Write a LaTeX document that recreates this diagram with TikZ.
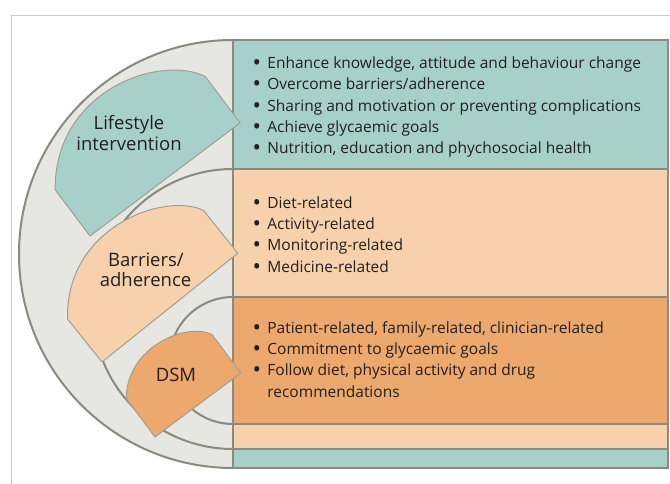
\documentclass[tikz,border=0pt]{standalone}
\usepackage{fontspec}
\setmainfont{Open Sans}
\definecolor{bggray}{HTML}{E6E6E2}
\definecolor{linegray}{HTML}{8A8A80}
\definecolor{framegray}{HTML}{C8C8C0}
\definecolor{shapeline}{HTML}{A0A090}
\definecolor{tealc}{HTML}{A8D0CB}
\definecolor{peachc}{HTML}{F7D0AC}
\definecolor{orangec}{HTML}{EDA96D}
\definecolor{textc}{HTML}{231F20}
\tikzset{
  boxline/.style={draw=linegray, line width=2pt},
  labelfont/.style={font=\fontsize{18.5}{21}\selectfont, text=textc, inner sep=0pt},
  bodyfont/.style={font=\fontsize{15.5}{21.3}\selectfont, text=textc, inner sep=0pt, anchor=base west}
}
% #1 Ax, #2 Ay (image px), #3 angle, #4 L, #5 W, #6 k, #7 m, #8 colour
\newcommand\labelshape[8]{%
  \begin{scope}[shift={(#1,-#2)}, rotate=#3]
    \filldraw[draw=shapeline, line width=1pt, fill=#8, line join=round]
      (0,0) -- (#4,0) -- (#4,#5)
      .. controls ({#4-0.45*#7},{#5+0.9*#7}) and ({0.6*#6},{#5+0.8*#6}) .. (0,#5) -- cycle;
  \end{scope}}
\newcommand\bul{\makebox[14.7pt][l]{\raisebox{-2pt}{\scalebox{1.45}{\textbullet}}}}
\begin{document}
\begin{tikzpicture}[x=1pt,y=1pt]
\useasboundingbox (0,0) rectangle (670,-484);
\begin{scope}
  \clip (0,0) rectangle (670,-484);
  \draw[framegray, line width=1pt] (11,-15.3) rectangle (700,-520);
\end{scope}
% outer semicircle
\filldraw[fill=bggray, boxline] (233,-40) arc[start angle=90, end angle=270, radius=214] -- cycle;
% right boxes
\filldraw[fill=tealc, boxline] (233,-40) rectangle (668,-468);
\filldraw[fill=peachc, boxline] (233,-169) rectangle (668,-449);
\filldraw[fill=orangec, boxline] (233,-297) rectangle (668,-424);
% inner arcs
\draw[boxline] (233,-169) arc[start angle=90, end angle=270, radius=140];
\draw[boxline] (233,-297) arc[start angle=90, end angle=270, radius=63.5];
\draw[boxline] (233,-40) -- (233,-468);
% label shapes
\labelshape{90}{236}{37}{188}{58}{100}{50}{tealc}
\labelshape{102}{362}{38.7}{174}{55}{90}{45}{peachc}
\labelshape{155}{437}{36.7}{107}{48}{52}{28}{orangec}
% labels
\node[labelfont, anchor=base] (lif1) at (129,-129.3) {Lifestyle};
\node[labelfont, anchor=base] (lif2) at (129,-150.5) {intervention};
\node[labelfont, anchor=base] (bar1) at (146,-266.7) {Barriers/};
\node[labelfont, anchor=base] (bar2) at (145.5,-286.7) {adherence};
\node[labelfont, anchor=base] (dsm) at (176,-381.7) {DSM};
% body text
\node[bodyfont] (t1) at (252.5,-68.7) {\begin{tabular}[t]{@{}l@{}}
\bul Enhance knowledge, attitude and behaviour change\\
\bul Overcome barriers/adherence\\
\bul Sharing and motivation or preventing complications\\
\bul Achieve glycaemic goals\\
\bul Nutrition, education and phychosocial health
\end{tabular}};
\node[bodyfont] (t2) at (252.5,-208.3) {\begin{tabular}[t]{@{}l@{}}
\bul Diet-related\\
\bul Activity-related\\
\bul Monitoring-related\\
\bul Medicine-related
\end{tabular}};
\node[bodyfont] (t3) at (252.5,-333.3) {\begin{tabular}[t]{@{}l@{}}
\bul Patient-related, family-related, clinician-related\\
\bul Commitment to glycaemic goals\\
\bul Follow diet, physical activity and drug\\
\hspace{14.7pt}recommendations
\end{tabular}};
\end{tikzpicture}
\end{document}
